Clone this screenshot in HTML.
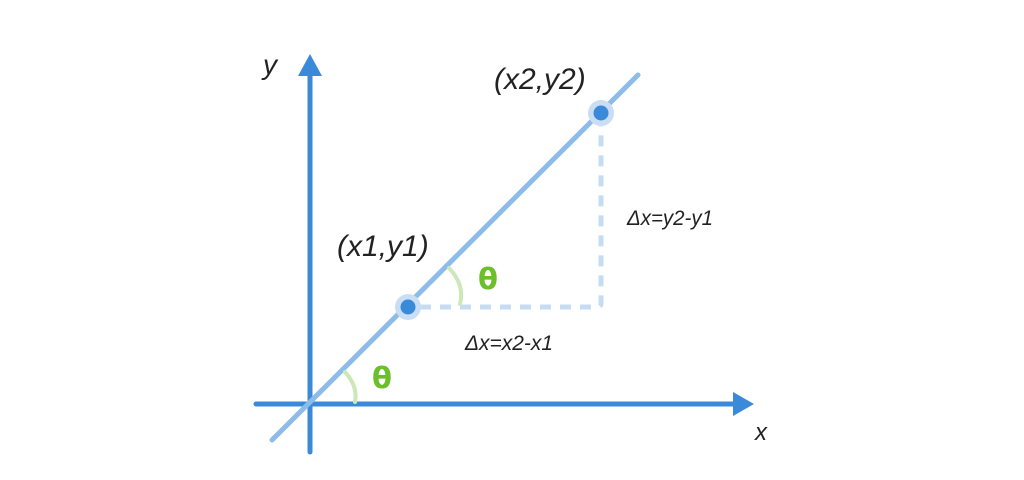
<!DOCTYPE html>
<html><head><style>
html,body{margin:0;padding:0;background:#fff;width:1024px;height:480px;overflow:hidden}
</style></head><body>
<svg width="1024" height="480" viewBox="0 0 1024 480" xmlns="http://www.w3.org/2000/svg">
<g stroke-linecap="round" fill="none">
<line x1="310" y1="452" x2="310" y2="74" stroke="#3a8ad9" stroke-width="5"/>
<line x1="256" y1="404" x2="738" y2="404" stroke="#3a8ad9" stroke-width="5"/>
<line x1="272" y1="440" x2="638" y2="75" stroke="#8dbbea" stroke-width="5"/>
<path d="M420 307 H597 Q601 307 601 303 V126" stroke="#c6dcf2" stroke-width="5" stroke-dasharray="11 9" stroke-linecap="butt"/>
<path d="M345 372 Q358 386 355 402" stroke="#cde8b8" stroke-width="4"/>
<path d="M449 268 Q465 285 460 304" stroke="#cde8b8" stroke-width="4"/>
</g>
<polygon points="310,54 298,76 322,76" fill="#3a8ad9"/>
<polygon points="754,404 733,392 733,416" fill="#3a8ad9"/>
<circle cx="408" cy="307" r="13" fill="#c9def4"/>
<circle cx="408" cy="307" r="7.5" fill="#3a8ad9"/>
<circle cx="601" cy="113" r="13" fill="#c9def4"/>
<circle cx="601" cy="113" r="7.5" fill="#3a8ad9"/>
<g font-family="Liberation Sans, sans-serif" font-style="italic" fill="#222">
<text x="263" y="74" font-size="28">y</text>
<text x="755" y="440" font-size="24">x</text>
<text x="337" y="256" font-size="30">(x1,y1)</text>
<text x="494" y="89" font-size="30">(x2,y2)</text>
<text x="465" y="350" font-size="21" textLength="88" lengthAdjust="spacingAndGlyphs">Δx=x2-x1</text>
<text x="627" y="225" font-size="21" textLength="86" lengthAdjust="spacingAndGlyphs">Δx=y2-y1</text>
</g>
<g font-family="DejaVu Sans, sans-serif" fill="#6abf2a" font-size="29" font-weight="bold">
<text x="372" y="388">θ</text>
<text x="478" y="289">θ</text>
</g>
</svg>
</body></html>
